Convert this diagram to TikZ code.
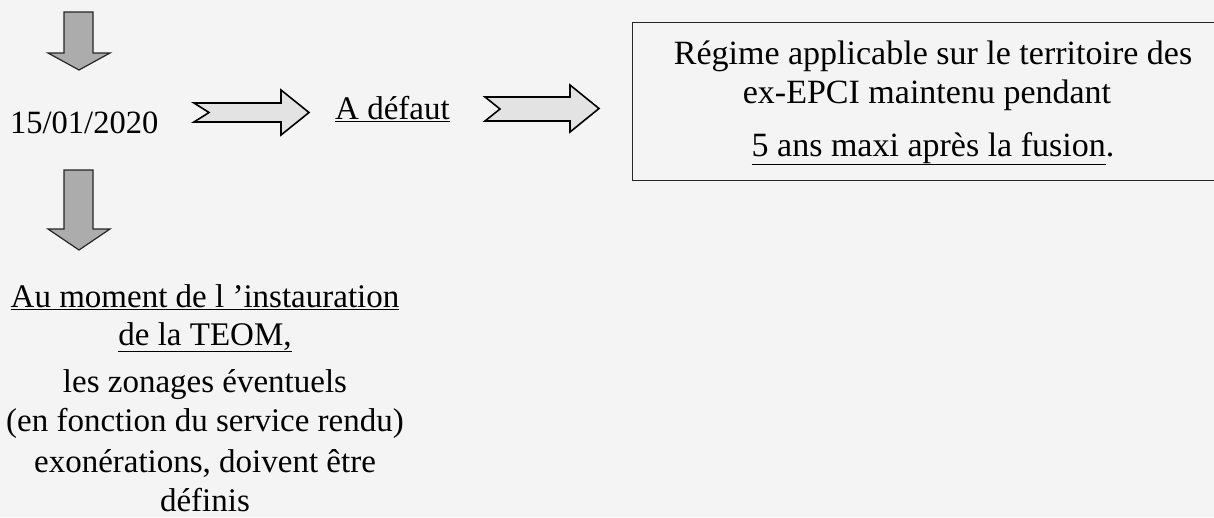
\documentclass[tikz,border=0pt]{standalone}
\usepackage{fontspec}
\setmainfont{Liberation Serif}
\begin{document}
\begin{tikzpicture}[x=1pt,y=-1pt,
  txt/.style={font=\fontsize{33}{40}\selectfont, inner sep=0pt, anchor=base},
  boxtxt/.style={font=\fontsize{34}{41}\selectfont, inner sep=0pt, anchor=base},
  datetxt/.style={font=\fontsize{32.5}{40}\selectfont, inner sep=0pt, anchor=base west},
  downarrow/.style={fill=gray!65, draw=black!85, line width=1.2pt, line join=miter},
  rightarrow/.style={fill=gray!22, draw=black, line width=1.6pt, line join=miter},
  boxline/.style={draw=black!85, line width=1pt}]
\fill[gray!9] (0,0) rectangle (1214,517);
\useasboundingbox (0,0) rectangle (1214,517);
\begin{scope}
\clip (0,0) rectangle (1214,517);
\draw[boxline] (632,22) rectangle (1230,180);
\end{scope}
% down arrows
\draw[downarrow] (64,12) -- (93,12) -- (93,53) -- (110,53) -- (79,70) -- (48,53) -- (64,53) -- cycle;
\draw[downarrow] (64,170) -- (93,170) -- (93,229) -- (110,229) -- (79,250) -- (48,229) -- (64,229) -- cycle;
% right notched arrows
\draw[rightarrow] (194,103) -- (281,103) -- (281,90) -- (309,112.5) -- (281,135) -- (281,122) -- (194,122) -- (209,112.5) -- cycle;
\draw[rightarrow] (485,97) -- (570,97) -- (570,85) -- (599,108.5) -- (570,132) -- (570,121) -- (485,121) -- (500,109) -- cycle;
% texts
\node[datetxt] (date) at (10,133) {15/01/2020};
\node[txt, anchor=base west] (defaut) at (335,119) {\underline{A défaut}};
\node[boxtxt] (r1) at (933,64) {Régime applicable sur le territoire des};
\node[boxtxt] (r2) at (927,103.5) {ex-EPCI maintenu pendant};
\node[boxtxt] (r3) at (933,156) {\underline{5 ans maxi après la fusion}.};
\node[txt] (b1) at (205,307) {\underline{Au moment de l ’instauration}};
\node[txt] (b2) at (205,345) {\underline{de la TEOM,}};
\node[txt] (b3) at (205,392) {les zonages éventuels};
\node[txt] (b4) at (205,431) {(en fonction du service rendu)};
\node[txt] (b5) at (205,472) {exonérations, doivent être};
\node[txt] (b6) at (205,511) {définis};
\end{tikzpicture}
\end{document}
